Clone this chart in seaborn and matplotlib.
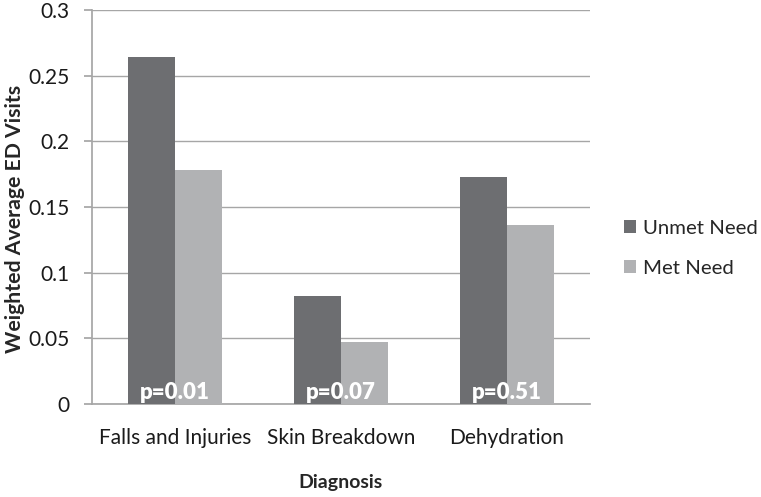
import pandas as pd
import matplotlib
matplotlib.use("Agg")
import matplotlib.pyplot as plt
import seaborn as sns

diagnoses = ["Falls and Injuries", "Skin Breakdown", "Dehydration"]
unmet_need = [0.264, 0.082, 0.173]
met_need = [0.178, 0.047, 0.136]
p_values = ["p=0.01", "p=0.07", "p=0.51"]
series_names = ["Unmet Need", "Met Need"]
y_ticks = [0, 0.05, 0.1, 0.15, 0.2, 0.25, 0.3]
y_tick_labels = ["0", "0.05", "0.1", "0.15", "0.2", "0.25", "0.3"]

df = pd.DataFrame({
    "Diagnosis": diagnoses * 2,
    "Need": [series_names[0]] * 3 + [series_names[1]] * 3,
    "Value": unmet_need + met_need,
})

sns.set_theme(style="white")
plt.rcParams["font.family"] = ["Lato", "DejaVu Sans"]

fig = plt.figure(figsize=(7.61, 4.97), dpi=100)
ax = fig.add_axes([92 / 761, 93 / 497, 498 / 761, 394 / 497])

palette = {"Unmet Need": "#6d6e71", "Met Need": "#b1b2b4"}
sns.barplot(data=df, x="Diagnosis", y="Value", hue="Need", palette=palette,
            width=0.57, saturation=1, linewidth=0, ax=ax, zorder=3)

# p-value labels at the foot of each group
for i, p in enumerate(p_values):
    ax.text(i, 0.0005, p, color="white", fontsize=16, fontweight="heavy",
            ha="center", va="bottom", zorder=4)

ax.set_ylim(0, 0.3)
ax.set_xlim(-0.5, 2.5)
ax.set_yticks(y_ticks)
ax.set_yticklabels(y_tick_labels)
ax.yaxis.grid(True, color="#a6a6a6", linewidth=1)
ax.set_axisbelow(True)
for side in ["top", "right"]:
    ax.spines[side].set_visible(False)
ax.spines["left"].set_color("#a6a6a6")
ax.spines["bottom"].set_color("#a6a6a6")
ax.tick_params(axis="y", which="both", left=True, length=6, color="#a6a6a6",
               labelsize=15, labelcolor="#1a1a1a", pad=10)
ax.tick_params(axis="x", bottom=False, labelsize=15, labelcolor="#1a1a1a", pad=11)

ax.set_ylabel("Weighted Average ED Visits", fontsize=15.3, fontweight="bold")
ax.yaxis.set_label_coords(-0.134, 0.47)
ax.set_xlabel("Diagnosis", fontsize=14, fontweight="bold", labelpad=19)

leg = ax.legend(loc="center left", bbox_to_anchor=(1.068, 0.395), frameon=False,
                fontsize=14.7, handlelength=0.6, handleheight=0.6,
                labelspacing=1.1, handletextpad=0.35, borderpad=0, borderaxespad=0)

fig.savefig("out.png", dpi=100)
